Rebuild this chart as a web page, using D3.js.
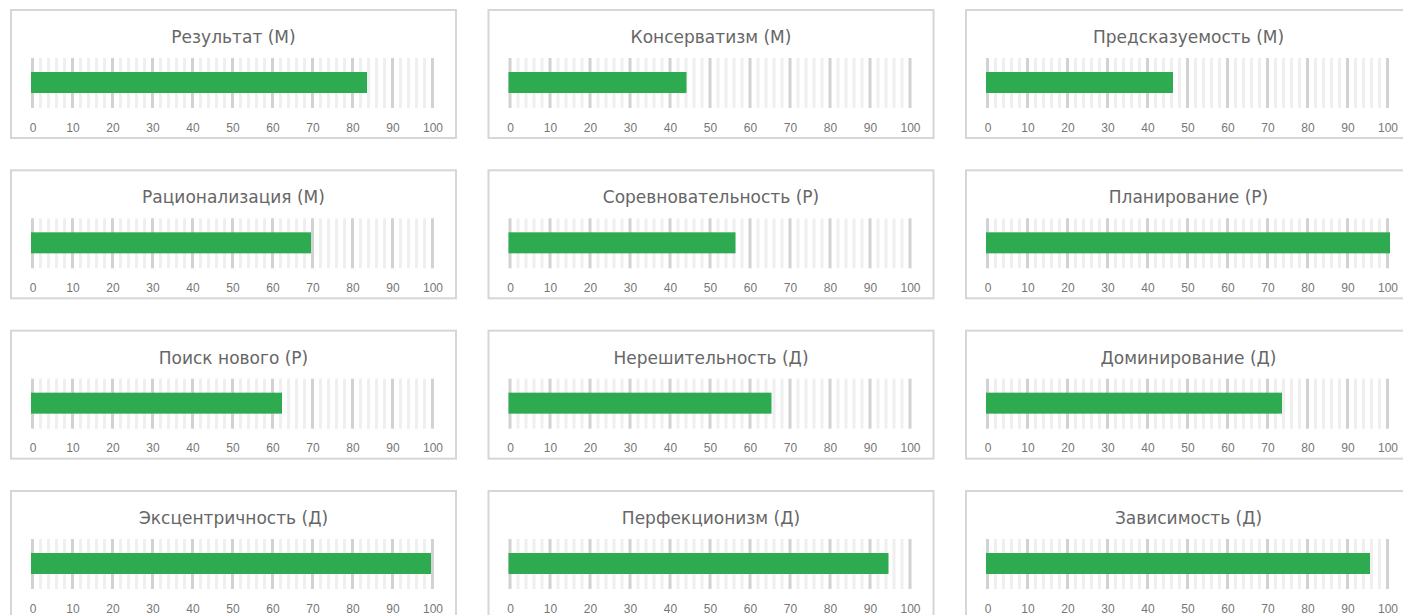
<!DOCTYPE html>
<html>
<head>
<meta charset="utf-8">
<script src="https://cdn.jsdelivr.net/npm/d3@7/dist/d3.min.js"></script>
<style>
  html, body { margin: 0; padding: 0; background: #fff; overflow: hidden; }
  svg { display: block; }
</style>
</head>
<body>
<svg id="chart" width="1403" height="615"></svg>
<script>
// ---- data ----
const categories = [
  "Результат (М)", "Консерватизм (М)", "Предсказуемость (М)",
  "Рационализация (М)", "Соревновательность (Р)", "Планирование (Р)",
  "Поиск нового (Р)", "Нерешительность (Д)", "Доминирование (Д)",
  "Эксцентричность (Д)", "Перфекционизм (Д)", "Зависимость (Д)"
];
const values = [84, 44.5, 46.75, 70, 56.75, 101, 62.75, 65.75, 74, 100, 95, 96];
const tickLabels = [0, 10, 20, 30, 40, 50, 60, 70, 80, 90, 100];
const gridValues = d3.range(0, 101, 2);

// ---- layout ----
const svg = d3.select("#chart");
const cols = 3;
const colX = d3.scaleLinear().domain([0, 1]).range([10, 487.5]);
const rowY = d3.scaleLinear().domain([0, 1]).range([9, 169.33]);
const boxW = 447, boxH = 130;
const x = d3.scaleLinear().domain([0, 100]).range([21, 421]);

categories.forEach((name, i) => {
  const c = i % cols, r = Math.floor(i / cols);
  const g = svg.append("g").attr("transform", `translate(${colX(c)},${rowY(r)})`);

  g.append("rect")
    .attr("x", 1).attr("y", 1)
    .attr("width", boxW - 2).attr("height", boxH - 2)
    .attr("fill", "#fff").attr("stroke", "#d6d6d6").attr("stroke-width", 2);

  g.append("text")
    .attr("x", boxW / 2).attr("y", 34)
    .attr("text-anchor", "middle")
    .attr("font-family", "'DejaVu Sans', sans-serif")
    .attr("font-size", 17)
    .attr("fill", "#666")
    .text(name);

  g.selectAll("rect.grid").data(gridValues).enter().append("rect")
    .attr("class", "grid")
    .attr("x", d => x(d))
    .attr("y", 49)
    .attr("width", 3)
    .attr("height", 50)
    .attr("fill", d => d % 10 === 0 ? "#d2d2d2" : "#efefef");

  g.append("rect")
    .attr("x", x(0))
    .attr("y", 63)
    .attr("width", x(values[i]) - x(0))
    .attr("height", 21)
    .attr("fill", "#2eaa50");

  const axis = d3.axisBottom(x).tickValues(tickLabels).tickSize(0).tickPadding(0).tickFormat(d3.format("d"));
  const ag = g.append("g").attr("transform", "translate(1.5,114)").call(axis);
  ag.select(".domain").remove();
  ag.selectAll("text")
    .attr("font-family", "'Liberation Sans', Arial, sans-serif")
    .attr("font-size", 12)
    .attr("fill", "#777");
});
</script>
</body>
</html>
